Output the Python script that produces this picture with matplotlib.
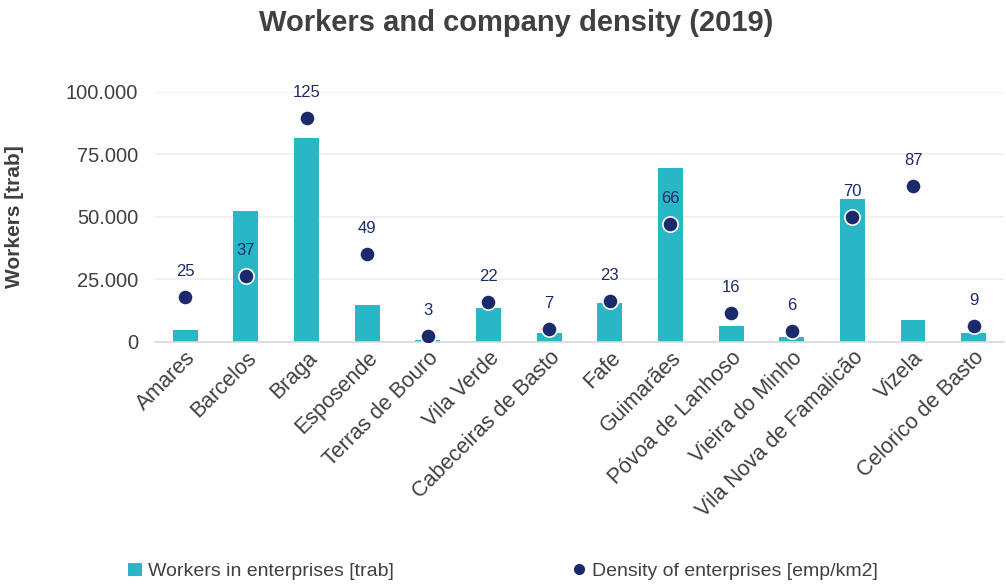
"""Workers in enterprises (bars) and density of enterprises (dots) per municipality, 2019."""

import matplotlib.pyplot as plt
from matplotlib.lines import Line2D
from matplotlib.patches import Patch
from matplotlib.ticker import FuncFormatter

MUNICIPALITIES = [
    "Amares", "Barcelos", "Braga", "Esposende", "Terras de Bouro", "Vila Verde",
    "Cabeceiras de Basto", "Fafe", "Guimarães", "Póvoa de Lanhoso",
    "Vieira do Minho", "Vila Nova de Famalicão", "Vizela", "Celorico de Basto",
]
WORKERS = [4800, 52400, 81600, 14800, 800, 13600, 3600, 15600, 69600, 6400,
           2000, 57200, 8800, 3600]
DENSITY = [25, 37, 125, 49, 3, 22, 7, 23, 66, 16, 6, 70, 87, 9]

BAR_COLOR = "#29b7c6"
DOT_COLOR = "#1b2a6b"
TEXT_COLOR = "#404040"

plt.rcParams["font.family"] = ["Liberation Sans", "DejaVu Sans"]

fig = plt.figure(figsize=(10.06, 5.86), dpi=100)
ax = fig.add_axes([0.154, 0.417, 0.844, 0.4265])
x = range(len(MUNICIPALITIES))

ax.bar(x, WORKERS, width=0.41, color=BAR_COLOR, zorder=2)
ax.set_ylim(0, 100000)
ax.set_xlim(-0.5, len(MUNICIPALITIES) - 0.5)
ax.set_yticks([0, 25000, 50000, 75000, 100000])
ax.yaxis.set_major_formatter(FuncFormatter(lambda v, _: f"{int(v):,}".replace(",", ".")))
ax.grid(axis="y", color="#efefef", linewidth=1.2, zorder=0)
ax.set_axisbelow(True)
for side in ("top", "right", "left"):
    ax.spines[side].set_visible(False)
ax.spines["bottom"].set_color("#d9d9d9")
ax.spines["bottom"].set_linewidth(1.2)
ax.tick_params(axis="both", length=0, colors=TEXT_COLOR)
ax.tick_params(axis="y", labelsize=14.5, pad=12)
ax.tick_params(axis="x", labelsize=15.5, pad=4)
ax.set_xticks(list(x))
ax.set_xticklabels(MUNICIPALITIES, rotation=45, ha="right", rotation_mode="anchor")
ax.set_ylabel("Workers [trab]", fontsize=15, fontweight="bold", color=TEXT_COLOR, labelpad=30)

# density on a hidden secondary scale
ax2 = ax.twinx()
ax2.set_ylim(0, 140)
ax2.axis("off")
ax2.plot(x, DENSITY, linestyle="none", marker="o", markersize=11,
         markerfacecolor=DOT_COLOR, markeredgecolor="white", markeredgewidth=1.2, zorder=3)
for xi, d in zip(x, DENSITY):
    ax2.annotate(f"{d}", (xi, d), xytext=(0, 13), textcoords="offset points",
                 ha="center", va="bottom", fontsize=12, color=DOT_COLOR)

fig.suptitle("Workers and company density (2019)", x=0.513, y=0.985,
             fontsize=21, fontweight="bold", color=TEXT_COLOR)

handles = [
    Patch(facecolor=BAR_COLOR, label="Workers in enterprises [trab]"),
    Line2D([], [], linestyle="none", marker="o", markersize=7,
           markerfacecolor=DOT_COLOR, markeredgecolor=DOT_COLOR,
           label="Density of enterprises [emp/km2]"),
]
fig.legend(handles=handles, loc="lower center", bbox_to_anchor=(0.5, -0.02), ncol=2,
           frameon=False, fontsize=14, labelcolor=TEXT_COLOR, columnspacing=9.2,
           handlelength=0.7, handletextpad=0.3, handleheight=0.7)

fig.savefig("out.png", dpi=100)
